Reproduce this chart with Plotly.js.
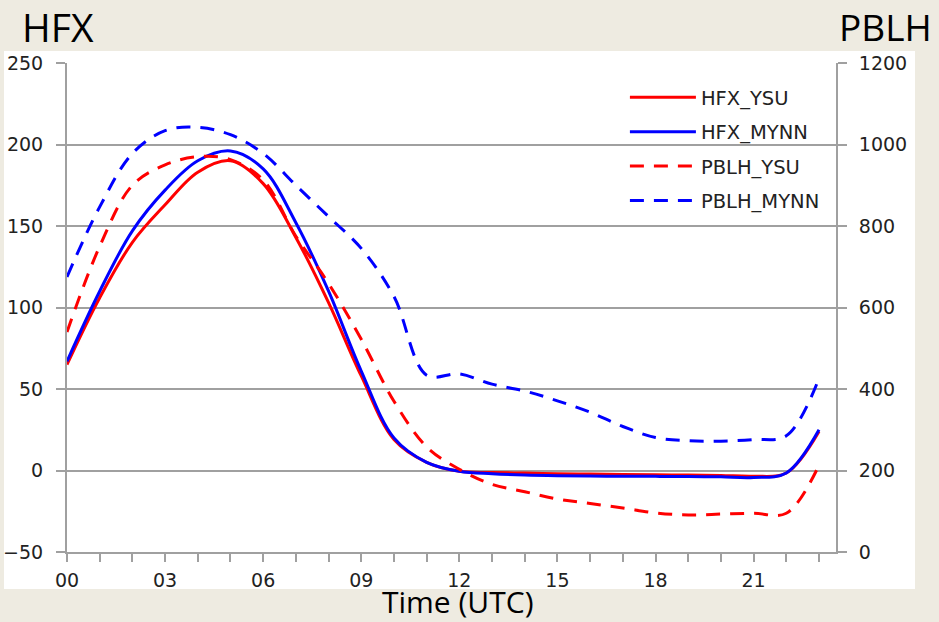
<!DOCTYPE html>
<html>
<head>
<meta charset="utf-8">
<script src="https://cdn.plot.ly/plotly-3.0.1.min.js"></script>
<style>html,body{margin:0;padding:0;background:#eeebe1;}#chart{width:939px;height:622px;}</style>
</head>
<body>
<div id="chart"></div>
<script>
// ---- data ----
const hours = [0,1,2,3,4,5,6,7,8,9,10,11,12,13,14,15,16,17,18,19,20,21,22,23];
const hourLabels = ['00','','','03','','','06','','','09','','','12','','','15','','','18','','','21','',''];
const hfxYSU  = [65,106,140,163,183,190,176,143,103,58,19,5,-0.5,-1.2,-1.6,-2,-2.2,-2.4,-2.6,-2.8,-3,-3.5,-1.5,24];
const hfxMYNN = [67,110,147,172,190,196,185,152,110,61,20,5,-0.5,-2,-2.8,-3.2,-3.4,-3.5,-3.6,-3.7,-3.9,-4.3,-1.5,25];
const pblhYSU  = [540,750,900,950,970,963,913,775,659,522,370,258,203,166,148,130,119,108,96,91,93,95,95,213];
const pblhMYNN = [675,847,978,1034,1042,1024,978,900,823,745,627,434,437,412,395,371,343,308,281,273,272,276,285,426];
const seriesNames = ['HFX_YSU','HFX_MYNN','PBLH_YSU','PBLH_MYNN'];
const leftTicks = [-50,0,50,100,150,200,250];
const rightTicks = [0,200,400,600,800,1000,1200];

const RED = '#ff0000', BLUE = '#0000ff', GRID = '#a0a0a0';
const DASH = '14px,10px';

function tr(y, name, color, dash, axis, grp) {
  return {
    x: hours, y: y, name: name, type: 'scatter', mode: 'lines',
    yaxis: axis, legendgroup: grp,
    line: {color: color, width: 3, dash: dash, shape: 'spline', smoothing: 1}
  };
}

const data = [
  tr(hfxYSU, seriesNames[0], RED, 'solid', 'y', 'a'),
  tr(hfxMYNN, seriesNames[1], BLUE, 'solid', 'y', 'b'),
  tr(pblhYSU, seriesNames[2], RED, DASH, 'y2', 'c'),
  tr(pblhMYNN, seriesNames[3], BLUE, DASH, 'y2', 'd')
];

const tickFont = {family: 'DejaVu Sans', size: 19, color: '#222'};

const layout = {
  width: 939, height: 622,
  margin: {l: 67, r: 103, t: 63, b: 70, pad: 0},
  paper_bgcolor: '#eeebe1',
  plot_bgcolor: '#ffffff',
  showlegend: true,
  legend: {
    x: 0.7255, y: 0.969, xanchor: 'left', yanchor: 'top',
    bgcolor: 'rgba(0,0,0,0)', borderwidth: 0,
    font: {family: 'DejaVu Sans', size: 19.5, color: '#222'},
    traceorder: 'grouped', tracegroupgap: 6, itemwidth: 66
  },
  xaxis: {
    range: [0, 23.52], tickvals: hours, ticktext: hourLabels,
    ticks: 'outside', ticklen: 8, tickwidth: 2, tickcolor: GRID,
    showline: true, linecolor: GRID, linewidth: 2,
    showgrid: false, zeroline: false, tickfont: tickFont,
    ticklabelstandoff: 2
  },
  yaxis: {
    range: [-50, 250], tickvals: leftTicks,
    ticks: 'outside', ticklen: 9, tickwidth: 2, tickcolor: GRID,
    showline: true, linecolor: GRID, linewidth: 2,
    showgrid: true, gridcolor: GRID, gridwidth: 2,
    zeroline: false, tickfont: tickFont, ticklabelstandoff: 9
  },
  yaxis2: {
    range: [0, 1200], tickvals: rightTicks, overlaying: 'y', side: 'right',
    ticks: 'outside', ticklen: 9, tickwidth: 2, tickcolor: GRID,
    showline: true, linecolor: GRID, linewidth: 2,
    showgrid: false, zeroline: false, tickfont: tickFont, ticklabelstandoff: 8
  },
  shapes: [{
    type: 'rect', xref: 'paper', yref: 'paper', layer: 'below',
    x0: -0.0819, x1: 1.1027, y0: -0.0757, y1: 1.0245,
    fillcolor: '#ffffff', line: {width: 0}
  }],
  annotations: [
    {text: 'HFX', xref: 'paper', yref: 'paper', x: -0.0605, y: 1.0747,
     xanchor: 'left', yanchor: 'middle', showarrow: false,
     font: {family: 'Open Sans', size: 39, color: '#000'}},
    {text: 'PBLH', xref: 'paper', yref: 'paper', x: 1.128, y: 1.0747,
     xanchor: 'right', yanchor: 'middle', showarrow: false,
     font: {family: 'Open Sans', size: 37, color: '#000'}},
    {text: 'Time (UTC)', xref: 'paper', yref: 'paper', x: 0.508, y: -0.102,
     xanchor: 'center', yanchor: 'middle', showarrow: false,
     font: {family: 'Open Sans', size: 30, color: '#000'}}
  ]
};

Plotly.newPlot('chart', data, layout, {displayModeBar: false, staticPlot: true});
</script>
</body>
</html>
